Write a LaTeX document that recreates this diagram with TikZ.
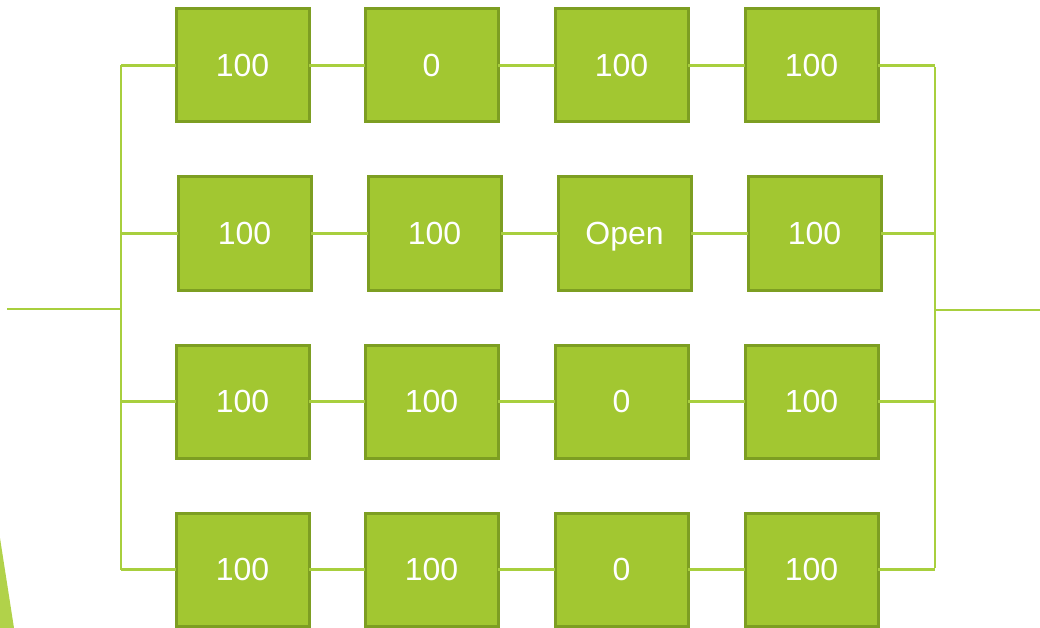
\documentclass[tikz,border=0pt]{standalone}
\usepackage{fontspec}
\setmainfont{Liberation Sans}
\definecolor{boxfill}{HTML}{A2C731}
\definecolor{boxline}{HTML}{7D9E22}
\definecolor{wire}{HTML}{A8CF3E}
\definecolor{tri}{HTML}{B1D24A}
\begin{document}
\begin{tikzpicture}[x=1pt,y=-1pt,
  cell/.style={draw=boxline,fill=boxfill,line width=3pt,minimum width=133pt,minimum height=113pt,
    inner sep=0pt,outer sep=0pt,text=white,font=\fontsize{32}{38}\selectfont,
    text depth=-3pt},
  wireline/.style={draw=wire,line width=2.2pt}]
\useasboundingbox (0,0) rectangle (1040,628);
\fill[tri] (0,538) -- (14,628) -- (0,628) -- cycle;
% row 1
\node[cell] (a1) at (242.5,65.5) {100};
\node[cell] (a2) at (431.5,65.5) {0};
\node[cell] (a3) at (621.5,65.5) {100};
\node[cell] (a4) at (811.5,65.5) {100};
% row 2
\node[cell] (b1) at (244.5,233.5) {100};
\node[cell] (b2) at (434.5,233.5) {100};
\node[cell] (b3) at (624.5,233.5) {Open};
\node[cell] (b4) at (814.5,233.5) {100};
% row 3
\node[cell] (c1) at (242.5,401.5) {100};
\node[cell] (c2) at (431.5,401.5) {100};
\node[cell] (c3) at (621.5,401.5) {0};
\node[cell] (c4) at (811.5,401.5) {100};
% row 4
\node[cell] (d1) at (242.5,569.5) {100};
\node[cell] (d2) at (431.5,569.5) {100};
\node[cell] (d3) at (621.5,569.5) {0};
\node[cell] (d4) at (811.5,569.5) {100};
% bus coordinates
\coordinate (Lin) at (7,309);
\coordinate (Lmid) at (121,309);
\coordinate (Rout) at (1040,310);
\coordinate (Rmid) at (935,310);
\draw[wireline] (a1.west -| Lmid) -- (d1.west -| Lmid);
\draw[wireline] (Lin) -- (Lmid);
\draw[wireline] ([yshift=-1.5pt]a4.east -| Rmid) -- ([yshift=2pt]d4.east -| Rmid);
\draw[wireline] (Rmid) -- (Rout);
\foreach \r in {a,b,c,d}{
  \draw[wireline] (\r1.west -| Lmid) -- (\r1.west);
  \draw[wireline] (\r1.east) -- (\r2.west);
  \draw[wireline] (\r2.east) -- (\r3.west);
  \draw[wireline] (\r3.east) -- (\r4.west);
  \draw[wireline] (\r4.east) -- (\r4.east -| Rmid);
}
\end{tikzpicture}
\end{document}
